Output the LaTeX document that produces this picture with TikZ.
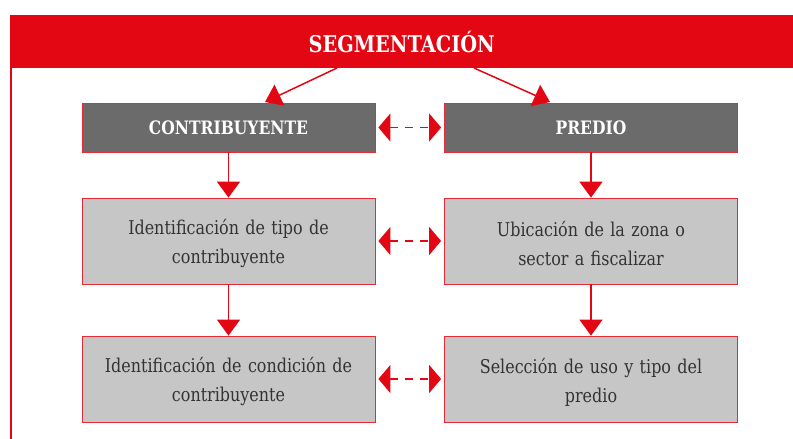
\documentclass[tikz,border=0pt]{standalone}
\usepackage{fontspec}
\setmainfont{DejaVu Serif}[FakeStretch=0.84]
\usetikzlibrary{arrows.meta}
\definecolor{sred}{HTML}{E30613}
\definecolor{dgray}{HTML}{6B6B6B}
\definecolor{lgray}{HTML}{C6C6C6}
\definecolor{tgray}{HTML}{333333}
\tikzset{
  hdr/.style={draw=sred!85, line width=0.8pt, fill=dgray, text=white, minimum width=293pt, minimum height=49pt, inner sep=0pt, font=\bfseries\fontsize{18.5}{22}\selectfont},
  body/.style={draw=sred!85, line width=0.8pt, fill=lgray, text=tgray, minimum width=293pt, minimum height=86pt, inner sep=0pt, align=center, text width=285pt, font=\fontsize{19}{29}\selectfont},
  bodytext/.style={text=tgray, align=center, text width=285pt, inner sep=0pt, font=\fontsize{19}{29}\selectfont},
  arr/.style={sred, line width=1.5pt, -{Triangle[width=23pt,length=16pt]}},
  darr/.style={sred, line width=1.6pt, dash pattern=on 8pt off 7pt, {Triangle[width=28pt,length=12pt]}-{Triangle[width=28pt,length=12pt]}, shorten <=3pt, shorten >=3pt}
}
\begin{document}
\begin{tikzpicture}[x=1pt,y=-1pt]
\useasboundingbox (0,0) rectangle (793,439);
\fill[white] (0,0) rectangle (793,439);
\node[fill=sred, minimum width=783pt, minimum height=53pt, anchor=north west, inner sep=0pt, text=white, font=\bfseries\fontsize{23}{26}\selectfont] (banner) at (10,15) {SEGMENTACIÓN};
\coordinate (bl) at (10,439);
\draw[sred, line width=1.5pt] ([xshift=0.75pt]banner.south west) -- ([xshift=0.75pt]bl);

\node[hdr] (c) at (228.5,127.5) {CONTRIBUYENTE};
\node[hdr] (p) at (591,127.5) {PREDIO};
\node[body] (c2) at (228.5,241) {};
\node[body] (p2) at (591,241) {};
\node[body] (c3) at (228.5,379) {};
\node[body] (p3) at (591,379) {};
\node[bodytext] (c2t) at ([yshift=-3pt]c2.center) {Identificación de tipo de\\contribuyente};
\node[bodytext] (p2t) at ([yshift=-3pt]p2.center) {Ubicación de la zona o\\sector a fiscalizar};
\node[bodytext] (c3t) at ([yshift=-3pt]c3.center) {Identificación de condición de\\contribuyente};
\node[bodytext] (p3t) at ([yshift=-3pt]p3.center) {Selección de uso y tipo del\\predio};

\coordinate (s1) at (337,68);
\coordinate (t1) at (265,102);
\coordinate (s2) at (474,68);
\coordinate (t2) at (550,102);
\draw[arr] (s1) -- (t1);
\draw[arr] (s2) -- (t2);

\draw[arr] (c.south) -- (c2.north);
\draw[arr] (p.south) -- (p2.north);
\draw[arr] (c2.south) -- (c3.north);
\draw[arr] (p2.south) -- (p3.north);

\draw[darr] (c.east) -- (p.west);
\draw[darr] (c2.east) -- (p2.west);
\draw[darr] (c3.east) -- (p3.west);
\end{tikzpicture}
\end{document}
